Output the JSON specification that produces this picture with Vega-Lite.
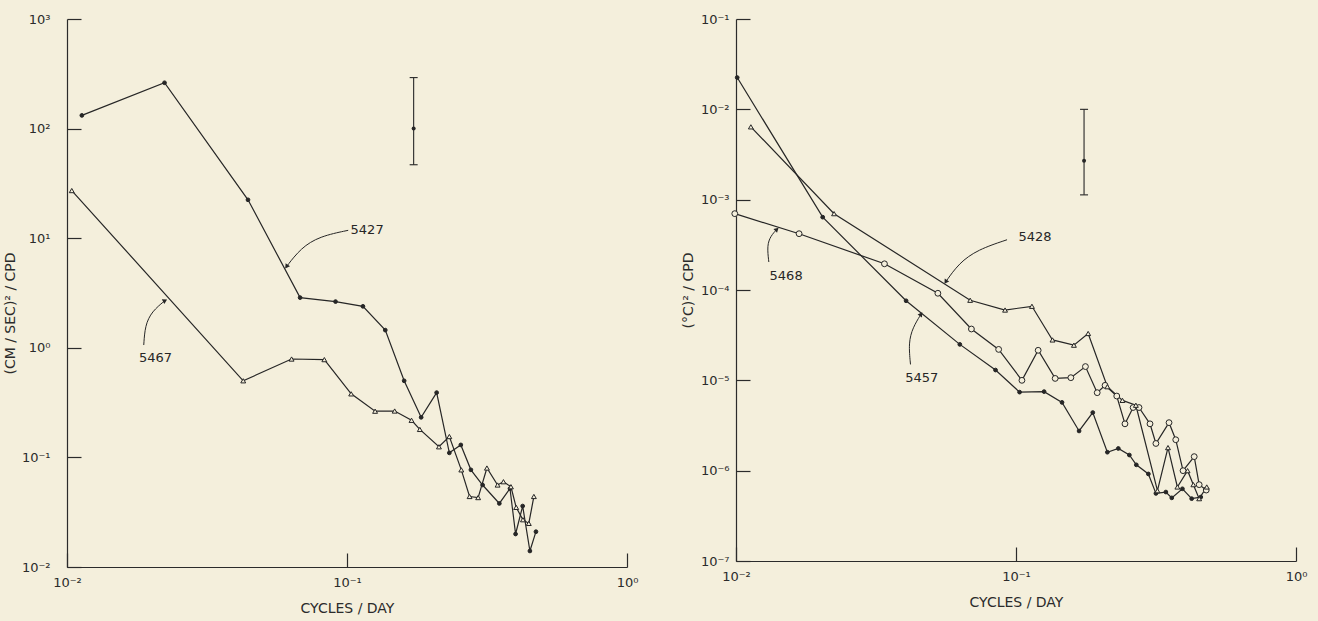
{
  "$schema": "https://vega.github.io/schema/vega-lite/v6.json",
  "background": "#f4efdc",
  "padding": {"left": 3, "top": 13, "right": 13, "bottom": 6},
  "config": {
    "view": {"stroke": null},
    "font": "DejaVu Sans",
    "concat": {"spacing": 43},
    "axis": {
      "grid": false,
      "domainColor": "#2b2b2b",
      "domainWidth": 1.2,
      "tickColor": "#2b2b2b",
      "tickWidth": 1.2,
      "tickSize": -14,
      "labelColor": "#2b2b2b",
      "titleColor": "#2b2b2b",
      "labelFontSize": 13,
      "titleFontSize": 14,
      "titleFontWeight": "normal",
      "labelFlush": false,
      "labelOverlap": false
    }
  },
  "datasets": {
    "spectra": [
      {"panel": "L", "series": "5427", "marker": "dot", "f": 0.0113, "v": 132},
      {"panel": "L", "series": "5427", "marker": "dot", "f": 0.0223, "v": 262},
      {"panel": "L", "series": "5427", "marker": "dot", "f": 0.0443, "v": 22.4},
      {"panel": "L", "series": "5427", "marker": "dot", "f": 0.068, "v": 2.87},
      {"panel": "L", "series": "5427", "marker": "dot", "f": 0.091, "v": 2.64},
      {"panel": "L", "series": "5427", "marker": "dot", "f": 0.114, "v": 2.39},
      {"panel": "L", "series": "5427", "marker": "dot", "f": 0.137, "v": 1.45},
      {"panel": "L", "series": "5427", "marker": "dot", "f": 0.16, "v": 0.5},
      {"panel": "L", "series": "5427", "marker": "dot", "f": 0.184, "v": 0.232},
      {"panel": "L", "series": "5427", "marker": "dot", "f": 0.209, "v": 0.39},
      {"panel": "L", "series": "5427", "marker": "dot", "f": 0.232, "v": 0.11},
      {"panel": "L", "series": "5427", "marker": "dot", "f": 0.255, "v": 0.13},
      {"panel": "L", "series": "5427", "marker": "dot", "f": 0.277, "v": 0.077},
      {"panel": "L", "series": "5427", "marker": "dot", "f": 0.305, "v": 0.056},
      {"panel": "L", "series": "5427", "marker": "dot", "f": 0.35, "v": 0.038},
      {"panel": "L", "series": "5427", "marker": "dot", "f": 0.382, "v": 0.052},
      {"panel": "L", "series": "5427", "marker": "dot", "f": 0.4, "v": 0.02},
      {"panel": "L", "series": "5427", "marker": "dot", "f": 0.424, "v": 0.036},
      {"panel": "L", "series": "5427", "marker": "dot", "f": 0.45, "v": 0.014},
      {"panel": "L", "series": "5427", "marker": "dot", "f": 0.473, "v": 0.021},
      {"panel": "L", "series": "5467", "marker": "triangle", "f": 0.0104, "v": 27.2},
      {"panel": "L", "series": "5467", "marker": "triangle", "f": 0.0426, "v": 0.5},
      {"panel": "L", "series": "5467", "marker": "triangle", "f": 0.0634, "v": 0.79},
      {"panel": "L", "series": "5467", "marker": "triangle", "f": 0.083, "v": 0.78},
      {"panel": "L", "series": "5467", "marker": "triangle", "f": 0.1035, "v": 0.38},
      {"panel": "L", "series": "5467", "marker": "triangle", "f": 0.126, "v": 0.264},
      {"panel": "L", "series": "5467", "marker": "triangle", "f": 0.148, "v": 0.265},
      {"panel": "L", "series": "5467", "marker": "triangle", "f": 0.17, "v": 0.218},
      {"panel": "L", "series": "5467", "marker": "triangle", "f": 0.182, "v": 0.18},
      {"panel": "L", "series": "5467", "marker": "triangle", "f": 0.213, "v": 0.125},
      {"panel": "L", "series": "5467", "marker": "triangle", "f": 0.232, "v": 0.155},
      {"panel": "L", "series": "5467", "marker": "triangle", "f": 0.256, "v": 0.077},
      {"panel": "L", "series": "5467", "marker": "triangle", "f": 0.274, "v": 0.044},
      {"panel": "L", "series": "5467", "marker": "triangle", "f": 0.294, "v": 0.043},
      {"panel": "L", "series": "5467", "marker": "triangle", "f": 0.316, "v": 0.08},
      {"panel": "L", "series": "5467", "marker": "triangle", "f": 0.345, "v": 0.056},
      {"panel": "L", "series": "5467", "marker": "triangle", "f": 0.362, "v": 0.06},
      {"panel": "L", "series": "5467", "marker": "triangle", "f": 0.385, "v": 0.054},
      {"panel": "L", "series": "5467", "marker": "triangle", "f": 0.402, "v": 0.035},
      {"panel": "L", "series": "5467", "marker": "triangle", "f": 0.425, "v": 0.027},
      {"panel": "L", "series": "5467", "marker": "triangle", "f": 0.446, "v": 0.025},
      {"panel": "L", "series": "5467", "marker": "triangle", "f": 0.465, "v": 0.044},
      {"panel": "R", "series": "5457", "marker": "dot", "f": 0.0101, "v": 0.0225},
      {"panel": "R", "series": "5457", "marker": "dot", "f": 0.0204, "v": 0.00064},
      {"panel": "R", "series": "5457", "marker": "dot", "f": 0.0405, "v": 7.6e-5},
      {"panel": "R", "series": "5457", "marker": "dot", "f": 0.063, "v": 2.5e-5},
      {"panel": "R", "series": "5457", "marker": "dot", "f": 0.0845, "v": 1.3e-5},
      {"panel": "R", "series": "5457", "marker": "dot", "f": 0.103, "v": 7.4e-6},
      {"panel": "R", "series": "5457", "marker": "dot", "f": 0.126, "v": 7.5e-6},
      {"panel": "R", "series": "5457", "marker": "dot", "f": 0.146, "v": 5.7e-6},
      {"panel": "R", "series": "5457", "marker": "dot", "f": 0.168, "v": 2.75e-6},
      {"panel": "R", "series": "5457", "marker": "dot", "f": 0.188, "v": 4.4e-6},
      {"panel": "R", "series": "5457", "marker": "dot", "f": 0.212, "v": 1.6e-6},
      {"panel": "R", "series": "5457", "marker": "dot", "f": 0.232, "v": 1.76e-6},
      {"panel": "R", "series": "5457", "marker": "dot", "f": 0.254, "v": 1.49e-6},
      {"panel": "R", "series": "5457", "marker": "dot", "f": 0.269, "v": 1.16e-6},
      {"panel": "R", "series": "5457", "marker": "dot", "f": 0.297, "v": 9.2e-7},
      {"panel": "R", "series": "5457", "marker": "dot", "f": 0.316, "v": 5.6e-7},
      {"panel": "R", "series": "5457", "marker": "dot", "f": 0.343, "v": 5.8e-7},
      {"panel": "R", "series": "5457", "marker": "dot", "f": 0.36, "v": 5.0e-7},
      {"panel": "R", "series": "5457", "marker": "dot", "f": 0.393, "v": 6.3e-7},
      {"panel": "R", "series": "5457", "marker": "dot", "f": 0.424, "v": 4.9e-7},
      {"panel": "R", "series": "5457", "marker": "dot", "f": 0.457, "v": 5.1e-7},
      {"panel": "R", "series": "5468", "marker": "circle", "f": 0.0099, "v": 0.0007},
      {"panel": "R", "series": "5468", "marker": "circle", "f": 0.0168, "v": 0.00042},
      {"panel": "R", "series": "5468", "marker": "circle", "f": 0.0339, "v": 0.000195},
      {"panel": "R", "series": "5468", "marker": "circle", "f": 0.0526, "v": 9.2e-5},
      {"panel": "R", "series": "5468", "marker": "circle", "f": 0.0693, "v": 3.7e-5},
      {"panel": "R", "series": "5468", "marker": "circle", "f": 0.0867, "v": 2.2e-5},
      {"panel": "R", "series": "5468", "marker": "circle", "f": 0.105, "v": 1.0e-5},
      {"panel": "R", "series": "5468", "marker": "circle", "f": 0.12, "v": 2.15e-5},
      {"panel": "R", "series": "5468", "marker": "circle", "f": 0.138, "v": 1.05e-5},
      {"panel": "R", "series": "5468", "marker": "circle", "f": 0.157, "v": 1.07e-5},
      {"panel": "R", "series": "5468", "marker": "circle", "f": 0.177, "v": 1.42e-5},
      {"panel": "R", "series": "5468", "marker": "circle", "f": 0.195, "v": 7.3e-6},
      {"panel": "R", "series": "5468", "marker": "circle", "f": 0.208, "v": 8.8e-6},
      {"panel": "R", "series": "5468", "marker": "circle", "f": 0.229, "v": 6.7e-6},
      {"panel": "R", "series": "5468", "marker": "circle", "f": 0.245, "v": 3.3e-6},
      {"panel": "R", "series": "5468", "marker": "circle", "f": 0.262, "v": 5.0e-6},
      {"panel": "R", "series": "5468", "marker": "circle", "f": 0.275, "v": 5.0e-6},
      {"panel": "R", "series": "5468", "marker": "circle", "f": 0.301, "v": 3.3e-6},
      {"panel": "R", "series": "5468", "marker": "circle", "f": 0.316, "v": 2.0e-6},
      {"panel": "R", "series": "5468", "marker": "circle", "f": 0.352, "v": 3.4e-6},
      {"panel": "R", "series": "5468", "marker": "circle", "f": 0.372, "v": 2.2e-6},
      {"panel": "R", "series": "5468", "marker": "circle", "f": 0.395, "v": 1.0e-6},
      {"panel": "R", "series": "5468", "marker": "circle", "f": 0.433, "v": 1.43e-6},
      {"panel": "R", "series": "5468", "marker": "circle", "f": 0.451, "v": 7.0e-7},
      {"panel": "R", "series": "5468", "marker": "circle", "f": 0.478, "v": 6.1e-7},
      {"panel": "R", "series": "5428", "marker": "triangle", "f": 0.0113, "v": 0.0064},
      {"panel": "R", "series": "5428", "marker": "triangle", "f": 0.0224, "v": 0.0007},
      {"panel": "R", "series": "5428", "marker": "triangle", "f": 0.0686, "v": 7.7e-5},
      {"panel": "R", "series": "5428", "marker": "triangle", "f": 0.0914, "v": 6.0e-5},
      {"panel": "R", "series": "5428", "marker": "triangle", "f": 0.114, "v": 6.6e-5},
      {"panel": "R", "series": "5428", "marker": "triangle", "f": 0.135, "v": 2.8e-5},
      {"panel": "R", "series": "5428", "marker": "triangle", "f": 0.161, "v": 2.45e-5},
      {"panel": "R", "series": "5428", "marker": "triangle", "f": 0.181, "v": 3.3e-5},
      {"panel": "R", "series": "5428", "marker": "triangle", "f": 0.212, "v": 8.5e-6},
      {"panel": "R", "series": "5428", "marker": "triangle", "f": 0.24, "v": 6.0e-6},
      {"panel": "R", "series": "5428", "marker": "triangle", "f": 0.268, "v": 5.3e-6},
      {"panel": "R", "series": "5428", "marker": "triangle", "f": 0.32, "v": 6.0e-7},
      {"panel": "R", "series": "5428", "marker": "triangle", "f": 0.349, "v": 1.8e-6},
      {"panel": "R", "series": "5428", "marker": "triangle", "f": 0.377, "v": 6.6e-7},
      {"panel": "R", "series": "5428", "marker": "triangle", "f": 0.41, "v": 1.0e-6},
      {"panel": "R", "series": "5428", "marker": "triangle", "f": 0.43, "v": 7.0e-7},
      {"panel": "R", "series": "5428", "marker": "triangle", "f": 0.451, "v": 4.9e-7},
      {"panel": "R", "series": "5428", "marker": "triangle", "f": 0.48, "v": 6.6e-7}
    ],
    "errbar": [
      {"panel": "L", "part": "hi", "f": 0.173, "v": 292},
      {"panel": "L", "part": "mid", "f": 0.173, "v": 100},
      {"panel": "L", "part": "lo", "f": 0.173, "v": 46.8},
      {"panel": "R", "part": "hi", "f": 0.175, "v": 0.01},
      {"panel": "R", "part": "mid", "f": 0.175, "v": 0.0027},
      {"panel": "R", "part": "lo", "f": 0.175, "v": 0.00113}
    ],
    "arrows": [
      {"panel": "L", "label": "5427", "order": 1, "f": 0.101, "v": 11.8},
      {"panel": "L", "label": "5427", "order": 2, "f": 0.0798, "v": 10.4},
      {"panel": "L", "label": "5427", "order": 3, "f": 0.0684, "v": 8.13},
      {"panel": "L", "label": "5427", "order": 4, "f": 0.0608, "v": 5.5},
      {"panel": "L", "label": "5467", "order": 1, "f": 0.0188, "v": 1.06},
      {"panel": "L", "label": "5467", "order": 2, "f": 0.019, "v": 1.6},
      {"panel": "L", "label": "5467", "order": 3, "f": 0.0201, "v": 2.15},
      {"panel": "L", "label": "5467", "order": 4, "f": 0.0224, "v": 2.7},
      {"panel": "R", "label": "5428", "order": 1, "f": 0.0929, "v": 0.00036},
      {"panel": "R", "label": "5428", "order": 2, "f": 0.073, "v": 0.00028},
      {"panel": "R", "label": "5428", "order": 3, "f": 0.0625, "v": 0.000198},
      {"panel": "R", "label": "5428", "order": 4, "f": 0.0561, "v": 0.000123},
      {"panel": "R", "label": "5468", "order": 1, "f": 0.0131, "v": 0.000204},
      {"panel": "R", "label": "5468", "order": 2, "f": 0.0129, "v": 0.00031},
      {"panel": "R", "label": "5468", "order": 3, "f": 0.0133, "v": 0.000397},
      {"panel": "R", "label": "5468", "order": 4, "f": 0.014, "v": 0.00047},
      {"panel": "R", "label": "5457", "order": 1, "f": 0.042, "v": 1.5e-5},
      {"panel": "R", "label": "5457", "order": 2, "f": 0.0413, "v": 2.6e-5},
      {"panel": "R", "label": "5457", "order": 3, "f": 0.0428, "v": 3.85e-5},
      {"panel": "R", "label": "5457", "order": 4, "f": 0.0458, "v": 5.4e-5}
    ],
    "labels": [
      {"panel": "L", "label": "5427", "f": 0.118, "v": 12},
      {"panel": "L", "label": "5467", "f": 0.0207, "v": 0.81},
      {"panel": "R", "label": "5428", "f": 0.117, "v": 0.000386},
      {"panel": "R", "label": "5468", "f": 0.0151, "v": 0.000143},
      {"panel": "R", "label": "5457", "f": 0.0461, "v": 1.06e-5}
    ]
  },
  "hconcat": [
    {
      "width": 560,
      "height": 548,
      "encoding": {
        "x": {"field": "f", "type": "quantitative", "scale": {"type": "log", "domain": [0.01, 1], "nice": false},
              "axis": {"values": [0.01, 0.1, 1], "title": "CYCLES / DAY", "titlePadding": 12, "labelPadding": 23,
                       "labelExpr": "'10' + ({'-7':'⁻⁷','-6':'⁻⁶','-5':'⁻⁵','-4':'⁻⁴','-3':'⁻³','-2':'⁻²','-1':'⁻¹','0':'⁰','1':'¹','2':'²','3':'³'})[''+round(log(datum.value)/LN10)]"}},
        "y": {"field": "v", "type": "quantitative", "scale": {"type": "log", "domain": [0.01, 1000], "nice": false},
              "axis": {"values": [0.01, 0.1, 1, 10, 100, 1000], "title": "(CM / SEC)² / CPD", "titlePadding": 4, "labelPadding": 31, "titleY": 294,
                       "labelExpr": "'10' + ({'-7':'⁻⁷','-6':'⁻⁶','-5':'⁻⁵','-4':'⁻⁴','-3':'⁻³','-2':'⁻²','-1':'⁻¹','0':'⁰','1':'¹','2':'²','3':'³'})[''+round(log(datum.value)/LN10)]"}}
      },
      "layer": [
        {"data": {"name": "spectra"}, "transform": [{"filter": "datum.panel === 'L'"}],
         "mark": {"type": "line", "color": "#262626", "strokeWidth": 1.2},
         "encoding": {"detail": {"field": "series"}}},
        {"data": {"name": "spectra"}, "transform": [{"filter": "datum.panel === 'L'"}],
         "mark": {"type": "point", "filled": true, "stroke": "#262626", "strokeWidth": 1, "opacity": 1},
         "encoding": {
           "shape": {"field": "marker", "scale": {"domain": ["dot", "triangle", "circle"], "range": ["circle", "triangle-up", "circle"]}, "legend": null},
           "size": {"field": "marker", "scale": {"domain": ["dot", "triangle", "circle"], "range": [14, 34, 26]}, "legend": null},
           "fill": {"field": "marker", "scale": {"domain": ["dot", "triangle", "circle"], "range": ["#262626", "#f4efdc", "#f4efdc"]}, "legend": null}
         }},
        {"data": {"name": "errbar"}, "transform": [{"filter": "datum.panel === 'L'"}],
         "mark": {"type": "line", "color": "#262626", "strokeWidth": 1.1}, "encoding": {}},
        {"data": {"name": "errbar"}, "transform": [{"filter": "datum.panel === 'L' && datum.part !== 'mid'"}],
         "mark": {"type": "point", "shape": "stroke", "size": 64, "stroke": "#262626", "strokeWidth": 1.1, "opacity": 1}},
        {"data": {"name": "errbar"}, "transform": [{"filter": "datum.panel === 'L' && datum.part === 'mid'"}],
         "mark": {"type": "point", "filled": true, "size": 16, "color": "#262626", "opacity": 1}},
        {"data": {"name": "arrows"}, "transform": [{"filter": "datum.panel === 'L'"}],
         "mark": {"type": "line", "color": "#262626", "strokeWidth": 1, "interpolate": "basis"},
         "encoding": {"detail": {"field": "label"}, "order": {"field": "order"}}},
        {"data": {"name": "arrows"}, "transform": [{"filter": "datum.label === '5427' && datum.order === 4"}],
         "mark": {"type": "point", "shape": "triangle-up", "filled": true, "size": 28, "angle": 215, "color": "#262626", "opacity": 1}},
        {"data": {"name": "arrows"}, "transform": [{"filter": "datum.label === '5467' && datum.order === 4"}],
         "mark": {"type": "point", "shape": "triangle-up", "filled": true, "size": 28, "angle": 61, "color": "#262626", "opacity": 1}},
        {"data": {"name": "labels"}, "transform": [{"filter": "datum.panel === 'L'"}],
         "mark": {"type": "text", "fontSize": 13, "color": "#262626", "align": "center", "baseline": "middle"},
         "encoding": {"text": {"field": "label"}}}
      ]
    },
    {
      "width": 560,
      "height": 542,
      "encoding": {
        "x": {"field": "f", "type": "quantitative", "scale": {"type": "log", "domain": [0.01, 1], "nice": false},
              "axis": {"values": [0.01, 0.1, 1], "title": "CYCLES / DAY", "titlePadding": 12, "labelPadding": 23,
                       "labelExpr": "'10' + ({'-7':'⁻⁷','-6':'⁻⁶','-5':'⁻⁵','-4':'⁻⁴','-3':'⁻³','-2':'⁻²','-1':'⁻¹','0':'⁰','1':'¹','2':'²','3':'³'})[''+round(log(datum.value)/LN10)]"}},
        "y": {"field": "v", "type": "quantitative", "scale": {"type": "log", "domain": [1e-7, 0.1], "nice": false},
              "axis": {"values": [1e-7, 1e-6, 1e-5, 1e-4, 1e-3, 1e-2, 1e-1], "title": "(°C)² / CPD", "titlePadding": 5, "labelPadding": 21,
                       "labelExpr": "'10' + ({'-7':'⁻⁷','-6':'⁻⁶','-5':'⁻⁵','-4':'⁻⁴','-3':'⁻³','-2':'⁻²','-1':'⁻¹','0':'⁰','1':'¹','2':'²','3':'³'})[''+round(log(datum.value)/LN10)]"}}
      },
      "layer": [
        {"data": {"name": "spectra"}, "transform": [{"filter": "datum.panel === 'R'"}],
         "mark": {"type": "line", "color": "#262626", "strokeWidth": 1.2},
         "encoding": {"detail": {"field": "series"}}},
        {"data": {"name": "spectra"}, "transform": [{"filter": "datum.panel === 'R'"}],
         "mark": {"type": "point", "filled": true, "stroke": "#262626", "strokeWidth": 1, "opacity": 1},
         "encoding": {
           "shape": {"field": "marker", "scale": {"domain": ["dot", "triangle", "circle"], "range": ["circle", "triangle-up", "circle"]}, "legend": null},
           "size": {"field": "marker", "scale": {"domain": ["dot", "triangle", "circle"], "range": [14, 34, 26]}, "legend": null},
           "fill": {"field": "marker", "scale": {"domain": ["dot", "triangle", "circle"], "range": ["#262626", "#f4efdc", "#f4efdc"]}, "legend": null}
         }},
        {"data": {"name": "errbar"}, "transform": [{"filter": "datum.panel === 'R'"}],
         "mark": {"type": "line", "color": "#262626", "strokeWidth": 1.1}, "encoding": {}},
        {"data": {"name": "errbar"}, "transform": [{"filter": "datum.panel === 'R' && datum.part !== 'mid'"}],
         "mark": {"type": "point", "shape": "stroke", "size": 64, "stroke": "#262626", "strokeWidth": 1.1, "opacity": 1}},
        {"data": {"name": "errbar"}, "transform": [{"filter": "datum.panel === 'R' && datum.part === 'mid'"}],
         "mark": {"type": "point", "filled": true, "size": 16, "color": "#262626", "opacity": 1}},
        {"data": {"name": "arrows"}, "transform": [{"filter": "datum.panel === 'R'"}],
         "mark": {"type": "line", "color": "#262626", "strokeWidth": 1, "interpolate": "basis"},
         "encoding": {"detail": {"field": "label"}, "order": {"field": "order"}}},
        {"data": {"name": "arrows"}, "transform": [{"filter": "datum.label === '5428' && datum.order === 4"}],
         "mark": {"type": "point", "shape": "triangle-up", "filled": true, "size": 28, "angle": 213, "color": "#262626", "opacity": 1}},
        {"data": {"name": "arrows"}, "transform": [{"filter": "datum.label === '5468' && datum.order === 4"}],
         "mark": {"type": "point", "shape": "triangle-up", "filled": true, "size": 28, "angle": 47, "color": "#262626", "opacity": 1}},
        {"data": {"name": "arrows"}, "transform": [{"filter": "datum.label === '5457' && datum.order === 4"}],
         "mark": {"type": "point", "shape": "triangle-up", "filled": true, "size": 28, "angle": 34, "color": "#262626", "opacity": 1}},
        {"data": {"name": "labels"}, "transform": [{"filter": "datum.panel === 'R'"}],
         "mark": {"type": "text", "fontSize": 13, "color": "#262626", "align": "center", "baseline": "middle"},
         "encoding": {"text": {"field": "label"}}}
      ]
    }
  ]
}
